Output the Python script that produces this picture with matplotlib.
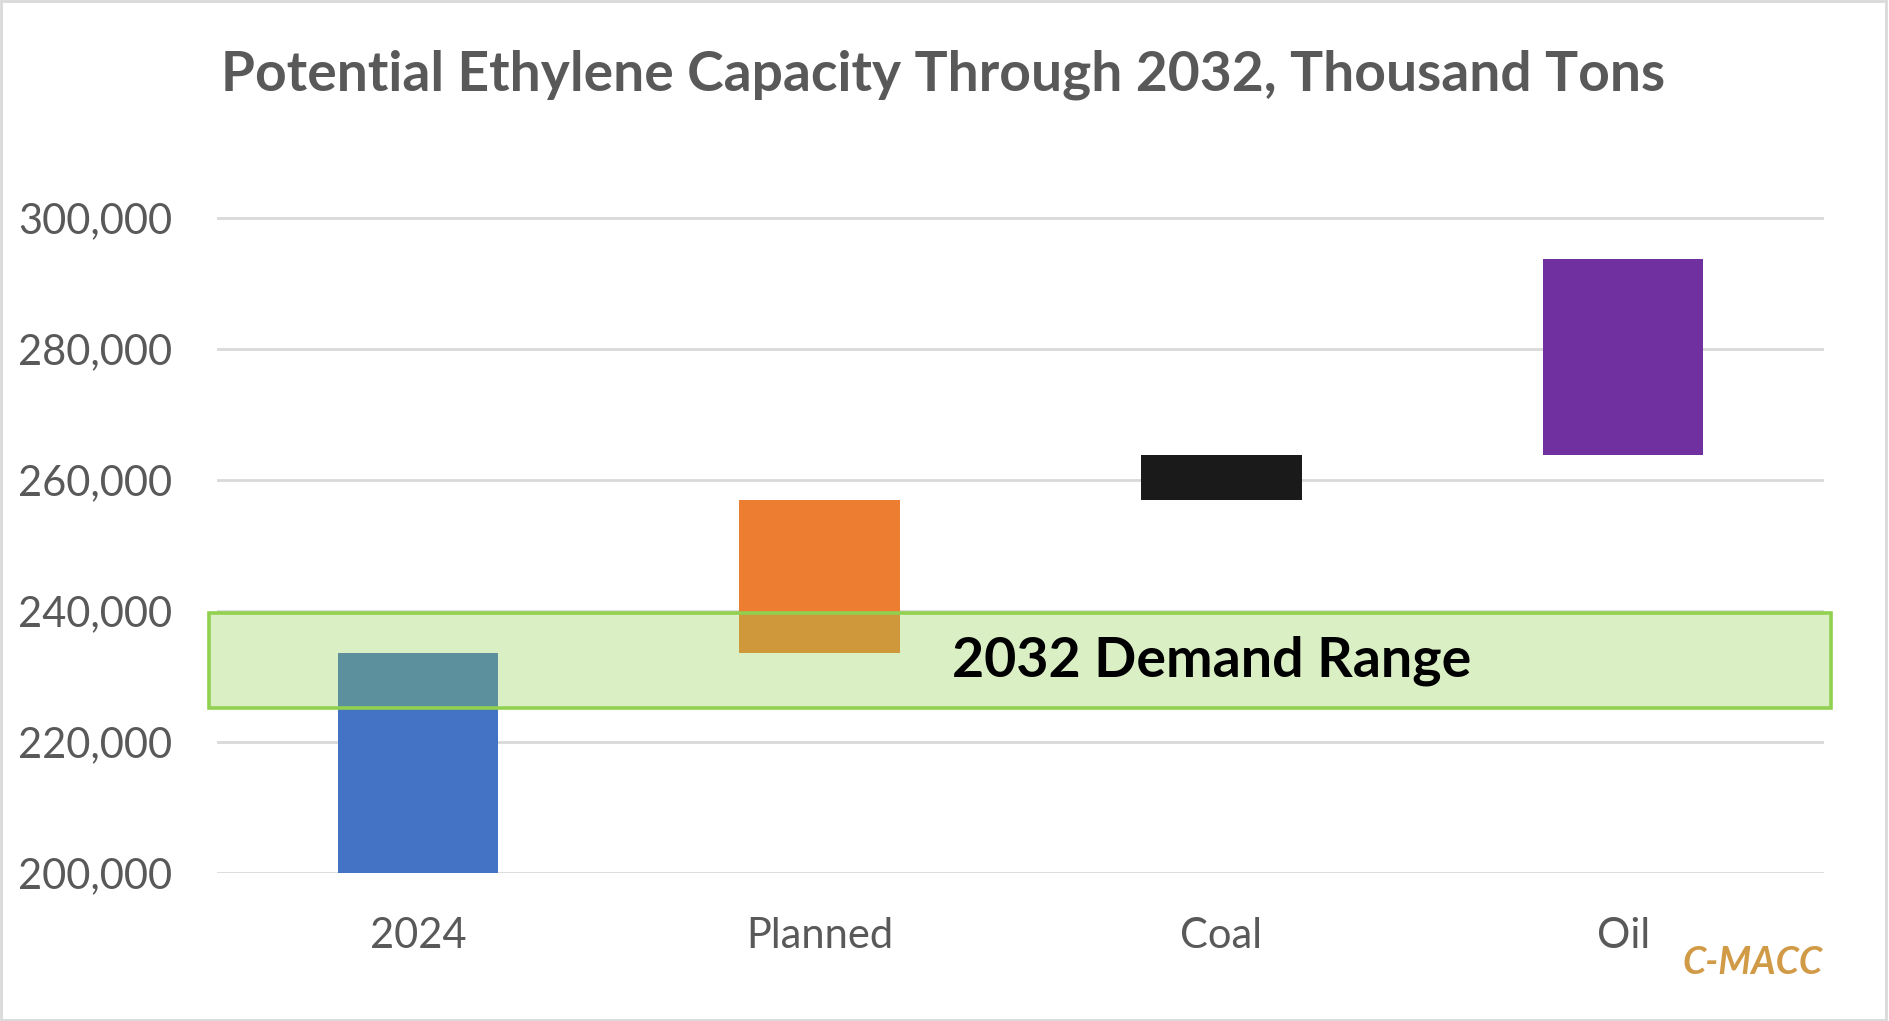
import matplotlib.pyplot as plt
from matplotlib.patches import Rectangle
import matplotlib.ticker as ticker

plt.rcParams['font.family'] = ['Lato', 'DejaVu Sans']

# categories and waterfall steps (thousand tons)
categories = ["2024", "Planned", "Coal", "Oil"]
bottoms = [200000, 233600, 256900, 263800]
tops = [233600, 256900, 263800, 293700]
colors = ["#4472C4", "#ED7D31", "#1A1A1A", "#7030A0"]

# 2032 demand range
demand_low = 225200
demand_high = 239700

y_ticks = [200000, 220000, 240000, 260000, 280000, 300000]

fig = plt.figure(figsize=(18.89, 10.21), dpi=100)
ax = fig.add_axes([0.1149, 0.1450, 0.8507, 0.7056])

heights = [t - b for t, b in zip(tops, bottoms)]
x = list(range(len(categories)))
ax.bar(x, heights, bottom=bottoms, width=0.4, color=colors, zorder=2)

# demand band (semi-transparent over the bars)
band = Rectangle((-0.52, demand_low), 4.037, demand_high - demand_low,
                 facecolor="#92D050", alpha=0.33, edgecolor="none",
                 zorder=3, clip_on=False)
ax.add_patch(band)
band_edge = Rectangle((-0.52, demand_low), 4.037, demand_high - demand_low,
                      facecolor="none", edgecolor="#92D050", linewidth=2.6,
                      zorder=4, clip_on=False)
ax.add_patch(band_edge)
ax.text(1.975, (demand_low + demand_high) / 2, "2032 Demand Range",
        ha="center", va="center", fontsize=40, fontweight="bold",
        color="black", zorder=5)

ax.set_xlim(-0.5, 3.5)
ax.set_ylim(200000, 310000)
ax.set_yticks(y_ticks)
ax.yaxis.set_major_formatter(ticker.StrMethodFormatter("{x:,.0f}"))
ax.set_xticks(x)
ax.set_xticklabels(categories)

ax.grid(axis="y", color="#D9D9D9", linewidth=2, zorder=0)
ax.set_axisbelow(True)
for s in ax.spines.values():
    s.set_visible(False)
ax.tick_params(axis="y", length=0, pad=32, labelsize=30, labelcolor="#595959")
ax.tick_params(axis="x", length=0, pad=32, labelsize=30, labelcolor="#595959")

fig.text(0.4995, 0.927, "Potential Ethylene Capacity Through 2032, Thousand Tons",
         ha="center", va="center", fontsize=39.7, fontweight="bold", color="#595959")

fig.text(0.965, 0.046, "C-MACC", ha="right", va="baseline", fontsize=27,
         fontweight="bold", fontstyle="italic", color="#D19A46")

# thin frame around the whole chart
fig.patches.append(Rectangle((0.0005, 0.001), 0.998, 0.998, transform=fig.transFigure,
                             facecolor="none", edgecolor="#D9D9D9", linewidth=2))

fig.savefig("out.png", dpi=100)
